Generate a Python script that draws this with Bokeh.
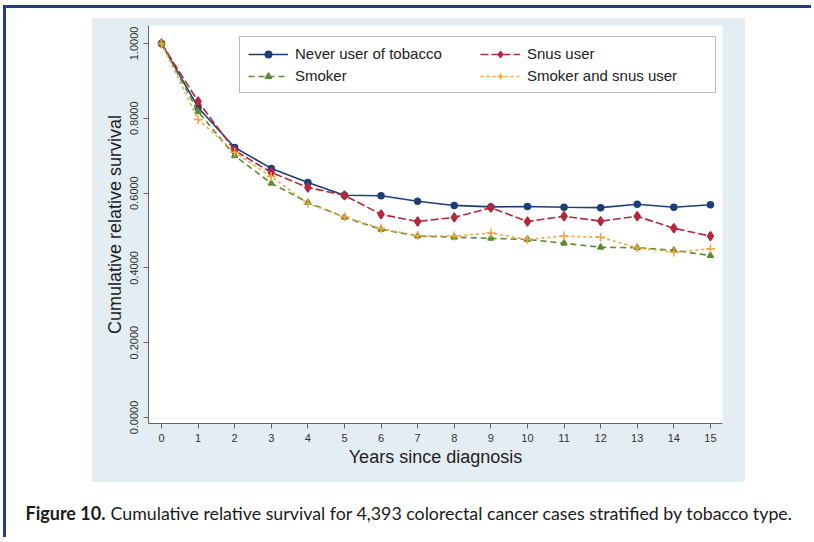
from bokeh.plotting import figure
from bokeh.models import Range1d, FixedTicker, PrintfTickFormatter, Legend, LegendItem, Label
from bokeh.embed import file_html
from bokeh.resources import INLINE

# ---- data ----
years = list(range(16))
never = [1.0, 0.829, 0.722, 0.666, 0.628, 0.594, 0.593, 0.578, 0.567, 0.563, 0.564, 0.562, 0.561, 0.570, 0.562, 0.569]
snus = [1.0, 0.845, 0.714, 0.655, 0.615, 0.594, 0.543, 0.524, 0.535, 0.561, 0.524, 0.538, 0.525, 0.538, 0.506, 0.485]
smoker = [1.0, 0.818, 0.700, 0.626, 0.575, 0.535, 0.503, 0.485, 0.482, 0.479, 0.476, 0.466, 0.455, 0.454, 0.447, 0.433]
smoker_snus = [1.0, 0.797, 0.709, 0.644, 0.572, 0.537, 0.505, 0.486, 0.485, 0.493, 0.476, 0.485, 0.482, 0.454, 0.442, 0.451]
series_names = ["Never user of tobacco", "Snus user", "Smoker", "Smoker and snus user"]
y_ticks = [0.0, 0.2, 0.4, 0.6, 0.8, 1.0]
x_title = "Years since diagnosis"
y_title = "Cumulative relative survival"
caption_bold = "Figure 10."
caption_rest = "Cumulative relative survival for 4,393 colorectal cancer cases stratified by tobacco type."

FONT = "Liberation Sans"
FRAME_BLUE = "#23407c"
W, H = 808, 482
X0, X1 = -0.355, 15.33
Y0, Y1 = -0.016, 1.048

p = figure(width=W, height=H, output_backend="svg", toolbar_location=None,
           x_range=Range1d(X0, X1), y_range=Range1d(Y0, Y1),
           min_border_left=142, min_border_right=92, min_border_top=17, min_border_bottom=67)
p.margin = (5, 0, 0, 3)
p.styles = {
    "border-top": "3px solid " + FRAME_BLUE,
    "border-left": "3px solid " + FRAME_BLUE,
    "background-color": "white",
    "background-image": "linear-gradient(#e4edf1, #e4edf1)",
    "background-size": "653px 464px",
    "background-position": "86px 10px",
    "background-repeat": "no-repeat",
}
p.border_fill_alpha = 0
p.background_fill_color = "white"
p.outline_line_color = None
p.xgrid.visible = False
p.ygrid.visible = False

for ax in (p.xaxis[0], p.yaxis[0]):
    ax.axis_line_color = "#666666"
    ax.major_tick_line_color = "#666666"
    ax.minor_tick_line_color = None
    ax.major_tick_in = 0
    ax.major_tick_out = 5
    ax.major_label_text_font = FONT
    ax.major_label_text_font_size = "11px"
    ax.major_label_text_color = "#333333"
    ax.axis_label_text_font = FONT
    ax.axis_label_text_font_size = "18px"
    ax.axis_label_text_font_style = "normal"
    ax.axis_label_text_color = "#222222"
    ax.major_label_standoff = 5

p.xaxis.ticker = FixedTicker(ticks=years)
p.yaxis.ticker = FixedTicker(ticks=y_ticks)
p.yaxis.formatter = PrintfTickFormatter(format="%.4f")
p.yaxis.major_label_orientation = "vertical"
p.xaxis.axis_label = x_title
p.yaxis.axis_label = y_title
p.xaxis.axis_label_standoff = 2
p.yaxis.axis_label_standoff = 3

styles = [
    dict(data=never, color="#1d3f78", dash="solid", marker="circle", size=6),
    dict(data=snus, color="#b3283b", dash="8 3", marker="diamond", size=9),
    dict(data=smoker, color="#5d8b35", dash="6 4", marker="triangle", size=6),
    dict(data=smoker_snus, color="#f0a540", dash="3 3", marker="cross", size=9),
]

items = []
for name, st in zip(series_names, styles):
    lr = p.line(years, st["data"], line_color=st["color"], line_width=1.6, line_dash=st["dash"])
    sr = p.scatter(years, st["data"], marker=st["marker"], size=st["size"],
                   fill_color=st["color"], line_color=st["color"], line_width=1.5)
    items.append(LegendItem(label=name, renderers=[lr, sr]))

legend = Legend(items=items, orientation="horizontal", ncols=2, location=(91, 330),
                label_text_font=FONT, label_text_font_size="15px", label_text_color="#222222",
                glyph_width=40, glyph_height=16, label_height=16, label_width=180,
                label_standoff=7, spacing=5, padding=8, margin=0,
                border_line_color="#777777", border_line_width=1,
                background_fill_color="white", background_fill_alpha=1.0)
p.add_layout(legend)

# ---- caption figure (separate root, stacked below) ----
CW, CH = 808, 50
cap = figure(width=CW, height=CH, output_backend="svg", toolbar_location=None,
             x_range=Range1d(0, CW), y_range=Range1d(0, CH),
             min_border=0, min_border_left=0, min_border_right=0,
             min_border_top=0, min_border_bottom=0,
             x_axis_location=None, y_axis_location=None)
cap.margin = (0, 0, 0, 3)
cap.styles = {"border-left": "3px solid " + FRAME_BLUE}
cap.outline_line_color = None
cap.xgrid.visible = False
cap.ygrid.visible = False
cap.border_fill_color = "white"
cap.background_fill_color = "white"
cap.add_layout(Label(x=19, y=25, text=caption_bold, text_font="Lato", text_font_style="bold",
                     text_font_size="18px", text_baseline="middle", text_color="#1a1a1a"))
cap.add_layout(Label(x=104, y=25, text=caption_rest, text_font="Lato",
                     text_font_size="17.8px", text_baseline="middle", text_color="#1a1a1a"))

open("out.html", "w").write(file_html([p, cap], INLINE))
